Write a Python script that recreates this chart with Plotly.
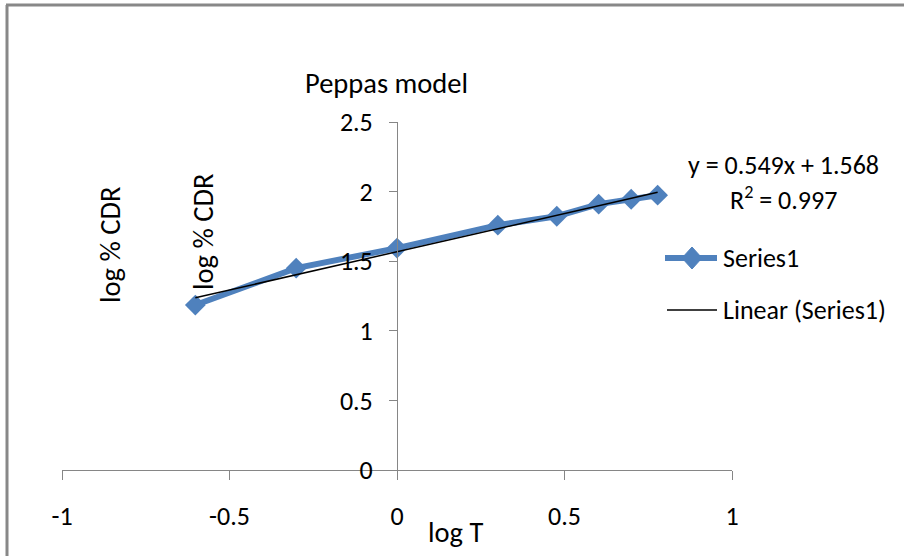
import plotly.graph_objects as go

# ---- data ----
log_t = [-0.602, -0.301, 0.0, 0.301, 0.477, 0.602, 0.699, 0.778]
log_cdr = [1.185, 1.450, 1.594, 1.759, 1.823, 1.910, 1.945, 1.974]
fit_slope = 0.549
fit_intercept = 1.568
fit_r2 = 0.997
x_tickvals = [-1, -0.5, 0, 0.5, 1]
x_ticktext = ["-1", "-0.5", "0", "0.5", "1"]
y_tickvals = [0, 0.5, 1, 1.5, 2, 2.5]
y_ticktext = ["0", "0.5", "1", "1.5", "2", "2.5"]
series_name = "Series1"
trend_name = "Linear (Series1)"
title_text = "Peppas model"
x_title = "log T"
y_title = "log % CDR"

# ---- layout geometry (pixels) ----
W, H = 904, 556
L, R, T, B = 62, 172, 122, 86
PW, PH = W - L - R, H - T - B
FONT = "'Liberation Sans Narrow', 'Arial Narrow', Carlito, Calibri, sans-serif"
FS = 26
FS_TITLE = 28.5
BLUE = "#4F81BD"
GREY = "#868686"


def px(xp):
    return (xp - L) / PW


def py(yp):
    return (H - B - yp) / PH


fit_x = [min(log_t), max(log_t)]
fit_y = [fit_slope * v + fit_intercept for v in fit_x]

fig = go.Figure()
fig.add_trace(go.Scatter(
    x=log_t, y=log_cdr, mode="lines+markers", name=series_name,
    line=dict(color=BLUE, width=6),
    marker=dict(symbol="diamond", size=16, color=BLUE),
    showlegend=False, cliponaxis=False,
))
fig.add_trace(go.Scatter(
    x=fit_x, y=fit_y, mode="lines", name=trend_name,
    line=dict(color="black", width=1.5),
    showlegend=False, cliponaxis=False,
))

annotations = [
    dict(text=title_text, x=px(386), y=py(83), size=FS_TITLE),
    dict(text=y_title, x=px(110), y=py(245), textangle=-90, size=FS_TITLE),
    dict(text=y_title, x=px(203), y=py(232), textangle=-90, size=FS_TITLE),
    dict(text=x_title, x=px(455), y=py(532), size=FS_TITLE),
    dict(text=f"y = {fit_slope}x + {fit_intercept}", x=px(783), y=py(165)),
    dict(text=f"R<sup>2</sup> = {fit_r2}", x=px(784), y=py(198)),
    dict(text=series_name, x=px(721), y=py(258), xanchor="left"),
    dict(text=trend_name, x=px(721), y=py(310), xanchor="left"),
]
for a in annotations:
    a.setdefault("xanchor", "center")
    size = a.pop("size", FS)
    a.update(xref="paper", yref="paper", yanchor="middle", showarrow=False,
             font=dict(family=FONT, size=size, color="black"))

# legend symbols + chart border
dx, dy = 10 / PW, 11 / PH
cx, cy = px(692), py(258)
shapes = [
    dict(type="line", xref="paper", yref="paper", x0=px(665), x1=px(717),
         y0=py(258), y1=py(258), line=dict(color=BLUE, width=6)),
    dict(type="path", xref="paper", yref="paper",
         path=f"M {cx-dx},{cy} L {cx},{cy+dy} L {cx+dx},{cy} L {cx},{cy-dy} Z",
         fillcolor=BLUE, line=dict(color=BLUE, width=1)),
    dict(type="line", xref="paper", yref="paper", x0=px(667), x1=px(717),
         y0=py(310), y1=py(310), line=dict(color="black", width=1.5)),
    dict(type="line", xref="paper", yref="paper", x0=px(7), x1=px(7),
         y0=py(H + 5), y1=py(5), line=dict(color="#888888", width=3)),
    dict(type="line", xref="paper", yref="paper", x0=px(6), x1=px(W + 5),
         y0=py(5), y1=py(5), line=dict(color="#888888", width=3)),
]

fig.update_layout(
    width=W, height=H,
    margin=dict(l=L, r=R, t=T, b=B, pad=0),
    paper_bgcolor="white", plot_bgcolor="white",
    font=dict(family=FONT, size=FS, color="black"),
    annotations=annotations, shapes=shapes,
    showlegend=False,
    xaxis=dict(
        range=[-1, 1], tickvals=x_tickvals, ticktext=x_ticktext,
        showgrid=False, zeroline=False, showline=True, linecolor=GREY, linewidth=1,
        ticks="outside", ticklen=9, tickcolor=GREY, tickwidth=1,
        ticklabelstandoff=14,
        tickfont=dict(family=FONT, size=FS, color="black"),
    ),
    yaxis=dict(
        range=[0, 2.5], tickvals=y_tickvals, ticktext=y_ticktext,
        anchor="free", position=0.5,
        showgrid=False, zeroline=False, showline=True, linecolor=GREY, linewidth=1,
        ticks="outside", ticklen=8, tickcolor=GREY, tickwidth=1,
        ticklabelstandoff=11,
        tickfont=dict(family=FONT, size=FS, color="black"),
    ),
)

fig.write_html("out.html")
